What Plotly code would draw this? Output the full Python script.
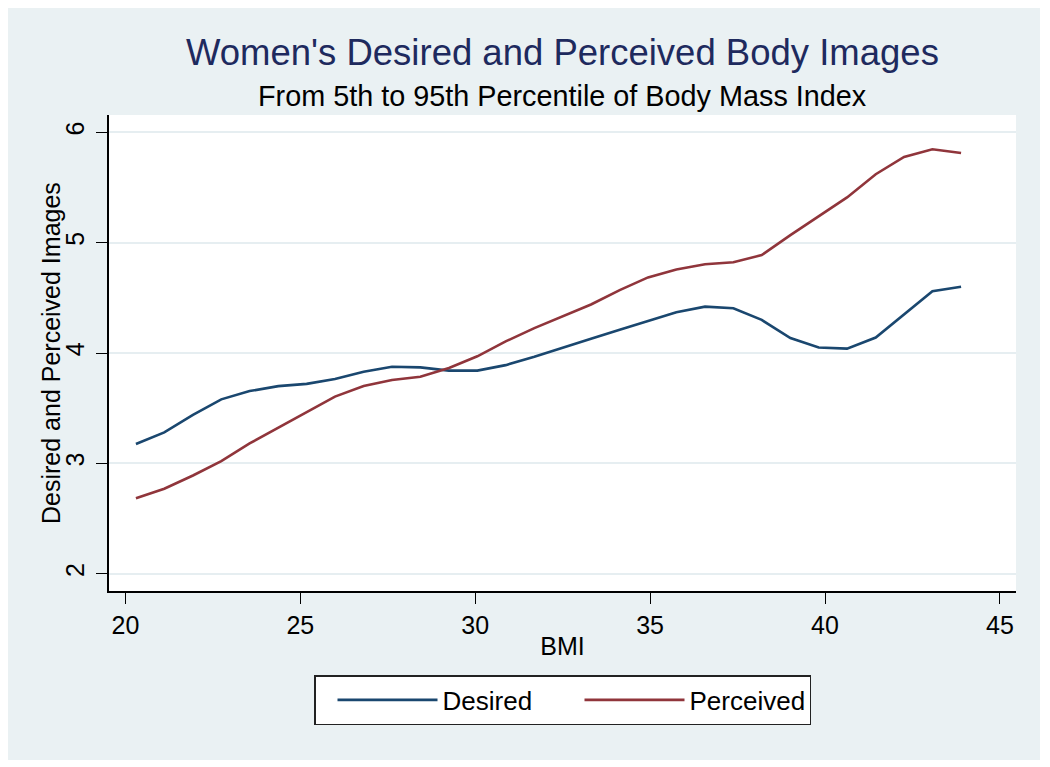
import plotly.graph_objects as go

# ---- data ----
bmi = [20.30, 21.11, 21.93, 22.74, 23.55, 24.37, 25.18, 25.99, 26.81, 27.62,
       28.43, 29.25, 30.06, 30.87, 31.69, 32.50, 33.31, 34.13, 34.94, 35.75,
       36.57, 37.38, 38.19, 39.01, 39.82, 40.63, 41.45, 42.26, 43.07, 43.89]
desired = [3.175, 3.28, 3.44, 3.58, 3.655, 3.70, 3.72, 3.765, 3.83, 3.875,
           3.87, 3.84, 3.84, 3.89, 3.965, 4.05, 4.13, 4.21, 4.29, 4.37,
           4.42, 4.405, 4.30, 4.135, 4.05, 4.04, 4.14, 4.35, 4.56, 4.60]
perceived = [2.683, 2.77, 2.89, 3.02, 3.18, 3.325, 3.467, 3.605, 3.70, 3.755,
             3.785, 3.865, 3.97, 4.105, 4.225, 4.33, 4.44, 4.57, 4.685, 4.757,
             4.805, 4.823, 4.887, 5.068, 5.24, 5.41, 5.62, 5.777, 5.847, 5.813]
series_names = ["Desired", "Perceived"]
series_colors = ["#1A476F", "#90353B"]
x_ticks = [20, 25, 30, 35, 40, 45]
y_ticks = [2, 3, 4, 5, 6]

title_text = "Women's Desired and Perceived Body Images"
subtitle_text = "From 5th to 95th Percentile of Body Mass Index"
x_title = "BMI"
y_title = "Desired and Perceived Images"

FONT = "Liberation Sans, Arial, Helvetica, sans-serif"
BG = "#EAF1F3"

fig = go.Figure()
for name, ys, col in zip(series_names, [desired, perceived], series_colors):
    fig.add_trace(go.Scatter(x=bmi, y=ys, mode="lines", name=name,
                             line=dict(color=col, width=2.6)))

# page is shown with an 8px body margin, so the figure is 8px smaller
fig.update_layout(
    width=1042, height=759,
    margin=dict(l=101, r=34, t=107, b=176),
    paper_bgcolor="white", plot_bgcolor="white",
    font=dict(family=FONT, color="black", size=25),
    showlegend=True,
    legend=dict(orientation="h", x=0.5, xanchor="center", y=-0.1765, yanchor="top",
                bgcolor="white", bordercolor="#222222", borderwidth=1.5,
                font=dict(size=26, color="black"), itemwidth=100,
                entrywidth=115, indentation=17, traceorder="normal"),
    shapes=[
        dict(type="rect", xref="paper", yref="paper", x0=-0.12, x1=1.0265,
             y0=-0.355, y1=1.24, fillcolor=BG, line=dict(width=0), layer="below"),
        dict(type="rect", xref="paper", yref="paper", x0=0, x1=1, y0=0, y1=1,
             fillcolor="white", line=dict(width=0), layer="below"),
    ],
    annotations=[
        dict(text=title_text, xref="paper", yref="paper", x=0.5, y=(591 - 52) / 476,
             xanchor="center", yanchor="middle", showarrow=False,
             font=dict(size=36.5, color="#1E2A5E", family=FONT)),
        dict(text=subtitle_text, xref="paper", yref="paper", x=0.5, y=(591 - 96) / 476,
             xanchor="center", yanchor="middle", showarrow=False,
             font=dict(size=28.8, color="black", family=FONT)),
        dict(text=y_title, xref="paper", yref="paper", x=(51 - 109) / 907, y=0.5,
             xanchor="center", yanchor="middle", textangle=-90, showarrow=False,
             font=dict(size=25, color="black", family=FONT)),
    ],
)

fig.update_xaxes(range=[19.53, 45.46], tickvals=x_ticks, ticktext=[str(v) for v in x_ticks],
                 showgrid=False, zeroline=False, showline=True, linecolor="black", linewidth=1.5,
                 ticks="outside", ticklen=11, tickwidth=1.3, tickcolor="black",
                 tickfont=dict(size=25),
                 title=dict(text=x_title, font=dict(size=25), standoff=0))
fig.update_yaxes(range=[1.843, 6.157], tickvals=y_ticks, ticktext=[str(v) for v in y_ticks],
                 showgrid=True, gridcolor="#E6EEF1", gridwidth=2, zeroline=False,
                 showline=True, linecolor="black", linewidth=1.5,
                 ticks="outside", ticklen=11, tickwidth=1.3, tickcolor="black",
                 tickangle=-90, tickfont=dict(size=25), ticklabelstandoff=2)

fig.write_html("out.html")
